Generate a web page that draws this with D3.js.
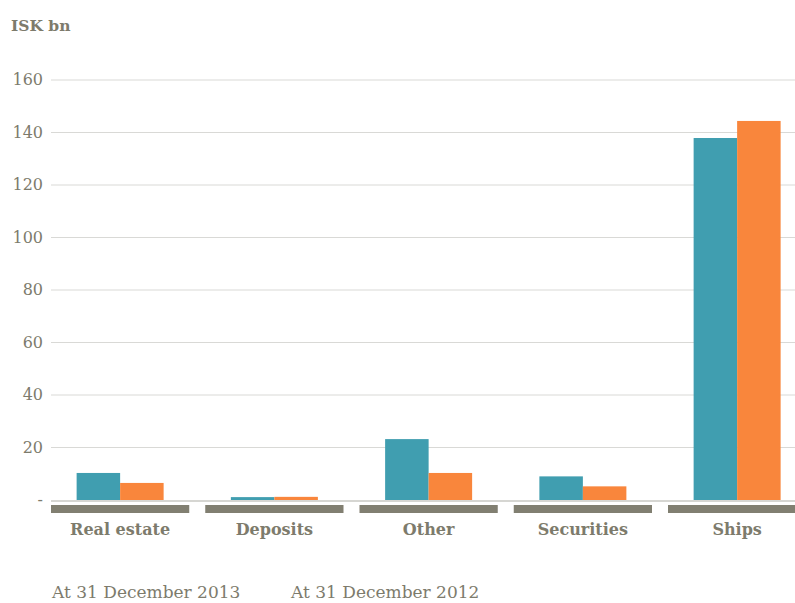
<!DOCTYPE html>
<html><head><meta charset="utf-8">
<script src="https://cdn.jsdelivr.net/npm/d3@7"></script>
<style>body{margin:0;background:#fff}</style>
</head><body>
<svg id="c" width="795" height="603"></svg>
<script>
const categories = ["Real estate","Deposits","Other","Securities","Ships"];
const series2013 = [10.3, 1.1, 23.2, 9.0, 137.9];
const series2012 = [6.5, 1.2, 10.3, 5.2, 144.4];
const seriesNames = ["At 31 December 2013","At 31 December 2012"];
const tickValues = [0,20,40,60,80,100,120,140,160];
const colors = ["#409eb0","#f9863c"];
const textCol = "#7d7b6c";
const font = "DejaVu Serif";

const svg = d3.select("#c");
const y = d3.scaleLinear().domain([0,160]).range([500,80]);
const step = 154.25, gap = 16;
const x = d3.scaleBand().domain(categories).range([51, 51+step*5-gap]).paddingInner(gap/step).paddingOuter(0);
const xs = d3.scaleBand().domain([0,1]).range([0, 87]);

// gridlines
svg.append("g").selectAll("line").data(tickValues.filter(d=>d>0)).join("line")
  .attr("x1",51).attr("x2",795).attr("y1",d=>y(d)).attr("y2",d=>y(d))
  .attr("stroke","#d9d9d6").attr("stroke-width",1);
// y labels
svg.append("g").selectAll("text").data(tickValues).join("text")
  .attr("x",43).attr("y",d=>y(d)+5).attr("text-anchor","end")
  .attr("font-family",font).attr("font-size",16).attr("fill",textCol)
  .text(d=>d===0?"-":d);

// bars
const data = categories.map((c,i)=>({c, v:[series2013[i], series2012[i]]}));
const g = svg.append("g").selectAll("g").data(data).join("g")
  .attr("transform",d=>`translate(${x(d.c)+(x.bandwidth()-87)/2},0)`);
g.selectAll("rect").data(d=>d.v).join("rect")
  .attr("x",(d,i)=>xs(i)).attr("width",xs.bandwidth())
  .attr("y",d=>y(d)).attr("height",d=>y(0)-y(d))
  .attr("fill",(d,i)=>colors[i]);

// baseline
svg.append("line").attr("x1",51).attr("x2",795).attr("y1",501).attr("y2",501)
  .attr("stroke","#d6d6d2").attr("stroke-width",2);

// category bands
svg.append("g").selectAll("rect").data(categories).join("rect")
  .attr("x",d=>x(d)).attr("width",x.bandwidth()).attr("y",505).attr("height",8)
  .attr("fill","#817f71");
svg.append("g").selectAll("text").data(categories).join("text")
  .attr("x",d=>x(d)+x.bandwidth()/2).attr("y",535).attr("text-anchor","middle")
  .attr("font-family",font).attr("font-weight","bold").attr("font-size",16).attr("fill",textCol)
  .text(d=>d);

// title
svg.append("text").attr("x",11).attr("y",31).attr("font-family",font).attr("font-weight","bold")
  .attr("font-size",15.5).attr("fill",textCol).text("ISK bn");

// legend
svg.append("g").selectAll("text").data(seriesNames).join("text")
  .attr("x",(d,i)=>[52,291][i]).attr("y",598)
  .attr("font-family",font).attr("font-size",17).attr("fill",textCol).text(d=>d);
</script>
</body></html>
